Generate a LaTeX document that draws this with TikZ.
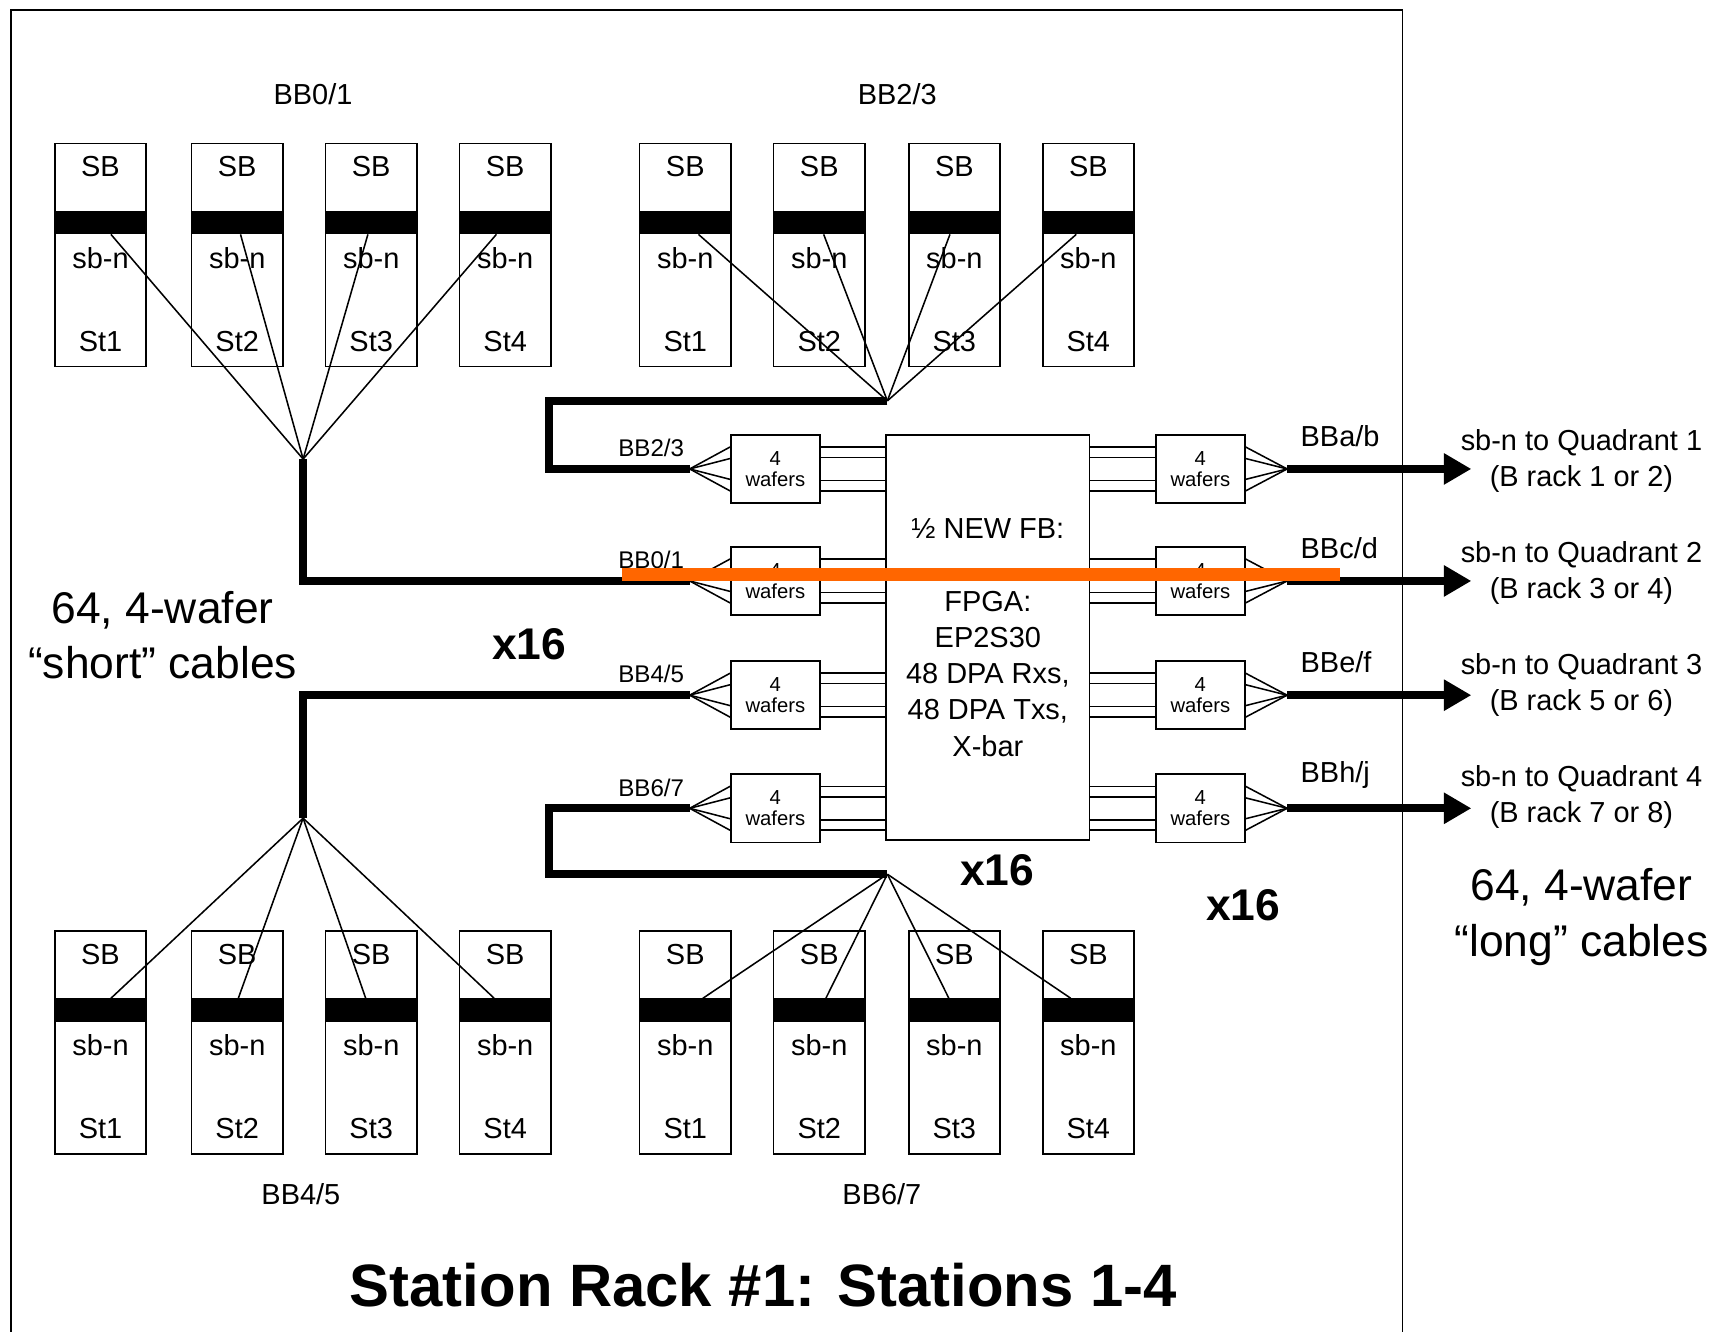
\documentclass[tikz,border=0pt]{standalone}
\usepackage{fontspec}
\setmainfont{Liberation Sans}
\usetikzlibrary{positioning,arrows.meta,calc}
\definecolor{rOrange}{RGB}{255,102,0}
\tikzset{
  sbox/.style={rectangle, draw, line width=0.8pt, minimum width=16.6mm,
               minimum height=40.6mm, inner sep=0pt},
  band/.style={rectangle, draw, fill=black, line width=0.8pt,
               minimum width=16.6mm, minimum height=4mm, inner sep=0pt},
  wbox/.style={rectangle, draw, fill=white, line width=0.8pt, minimum width=16.2mm,
               minimum height=12.4mm, inner sep=0pt, align=center,
               font=\fontsize{10.5}{10.8}\selectfont},
  fbbox/.style={rectangle, draw, line width=0.8pt, minimum width=37mm,
                minimum height=73.8mm, inner sep=0pt, align=center,
                font=\fontsize{15}{18.8}\selectfont},
  lbl/.style={font=\fontsize{15}{18.8}\selectfont, inner sep=0pt, align=center},
  slbl/.style={font=\fontsize{12.5}{15}\selectfont, inner sep=0pt},
  note/.style={font=\fontsize{23}{28.8}\selectfont, inner sep=0pt, align=center},
  mult/.style={font=\fontsize{23}{28}\selectfont\bfseries, inner sep=0pt},
  ttl/.style={font=\fontsize{31}{36}\selectfont\bfseries, inner sep=0pt},
  wire/.style={draw, line width=0.8pt},
  cable/.style={draw, line width=4.3pt},
  outarrow/.style={cable, -{Triangle[length=5mm, width=5.4mm]}, shorten >=-2mm},
  hilite/.style={draw=rOrange, line width=6.8pt},
  frame/.style={draw, line width=0.8pt},
}
% station board: SB / connector band / sb-n / station
\newcommand{\StBox}[4]{%
  \node[sbox, anchor=north] (#1) at (#2,#3) {};
  \node[band, anchor=north] (#1b) at ($(#1.north)+(0,62)$) {};
  \node[lbl] (#1s) at ($(#1.north)+(0,22)$) {SB};
  \node[lbl] (#1n) at ($(#1.north)+(0,105)$) {sb-n};
  \node[lbl] (#1t) at ($(#1.north)+(0,181)$) {#4};}
% one row of 4-wafer boxes on both sides of the FB
\newcommand{\WaferRow}[4]{%
  \node[wbox] (wl#1) at (706,#2) {4\\wafers};
  \node[wbox] (wr#1) at (1093,#2) {4\\wafers};
  \coordinate (fl#1) at (628,#2);
  \coordinate (fr#1) at (1172,#2);
  \node[slbl] (ll#1) at (593,#2-19) {#3};
  \node[lbl, anchor=west] (rl#1) at (1184,#2-30) {#4};
  \draw[wire] (fl#1) -- ([yshift=4mm]wl#1.west);
  \draw[wire] (fl#1) -- ([yshift=1.9mm]wl#1.west);
  \draw[wire] (fl#1) -- ([yshift=-1.9mm]wl#1.west);
  \draw[wire] (fl#1) -- ([yshift=-4mm]wl#1.west);
  \draw[wire] ([yshift=4mm]wl#1.east) -- ([yshift=4mm]wl#1.east -| fb.west);
  \draw[wire] ([yshift=2.1mm]wl#1.east) -- ([yshift=2.1mm]wl#1.east -| fb.west);
  \draw[wire] ([yshift=-2.1mm]wl#1.east) -- ([yshift=-2.1mm]wl#1.east -| fb.west);
  \draw[wire] ([yshift=-4mm]wl#1.east) -- ([yshift=-4mm]wl#1.east -| fb.west);
  \draw[wire] ([yshift=4mm]wr#1.west) -- ([yshift=4mm]wr#1.west -| fb.east);
  \draw[wire] ([yshift=2.1mm]wr#1.west) -- ([yshift=2.1mm]wr#1.west -| fb.east);
  \draw[wire] ([yshift=-2.1mm]wr#1.west) -- ([yshift=-2.1mm]wr#1.west -| fb.east);
  \draw[wire] ([yshift=-4mm]wr#1.west) -- ([yshift=-4mm]wr#1.west -| fb.east);
  \draw[wire] ([yshift=4mm]wr#1.east) -- (fr#1);
  \draw[wire] ([yshift=1.9mm]wr#1.east) -- (fr#1);
  \draw[wire] ([yshift=-1.9mm]wr#1.east) -- (fr#1);
  \draw[wire] ([yshift=-4mm]wr#1.east) -- (fr#1);}

\begin{document}
\begin{tikzpicture}[x=0.2mm, y=-0.2mm]
  \useasboundingbox (0,0) rectangle (1568,1212);
  \draw[frame] (10,1220) |- (1277,9) -- (1277,1220);

  %====================== STATION BOARDS ======================
  \node[lbl] (g01) at (285,86) {BB0/1};
  \StBox{tl1}{91.5}{130}{St1}
  \StBox{tl2}{216}{130}{St2}
  \StBox{tl3}{338}{130}{St3}
  \StBox{tl4}{460}{130}{St4}

  \node[lbl] (g23) at (817,86) {BB2/3};
  \StBox{tr1}{624}{130}{St1}
  \StBox{tr2}{746}{130}{St2}
  \StBox{tr3}{869}{130}{St3}
  \StBox{tr4}{991}{130}{St4}

  \StBox{bl1}{91.5}{847}{St1}
  \StBox{bl2}{216}{847}{St2}
  \StBox{bl3}{338}{847}{St3}
  \StBox{bl4}{460}{847}{St4}
  \node[lbl] (g45) at (274,1087) {BB4/5};

  \StBox{br1}{624}{847}{St1}
  \StBox{br2}{746}{847}{St2}
  \StBox{br3}{869}{847}{St3}
  \StBox{br4}{991}{847}{St4}
  \node[lbl] (g67) at (803,1087) {BB6/7};

  %====================== FB AND WAFER ROWS ======================
  \node[fbbox] (fb) at (899.5,580.5)
    {½ NEW FB:\\[18.8pt]FPGA:\\EP2S30\\48 DPA Rxs,\\48 DPA Txs,\\X-bar};

  \WaferRow{1}{427}{BB2/3}{BBa/b}
  \WaferRow{2}{529}{BB0/1}{BBc/d}
  \WaferRow{3}{633}{BB4/5}{BBe/f}
  \WaferRow{4}{736}{BB6/7}{BBh/j}

  %====================== SHORT CABLES ======================
  \coordinate (hubTL) at (276,418);
  \coordinate (hubTR) at (808,365);
  \coordinate (hubBL) at (276,745);
  \coordinate (hubBR) at (808,796);

  \draw[wire] (hubTL) -- ($(tl1b.south)+(9.5,0)$);
  \draw[wire] (hubTL) -- ($(tl2b.south)+(3,0)$);
  \draw[wire] (hubTL) -- ($(tl3b.south)+(-3,0)$);
  \draw[wire] (hubTL) -- ($(tl4b.south)+(-8,0)$);
  \draw[wire] (hubTR) -- ($(tr1b.south)+(12,0)$);
  \draw[wire] (hubTR) -- ($(tr2b.south)+(4,0)$);
  \draw[wire] (hubTR) -- ($(tr3b.south)+(-4,0)$);
  \draw[wire] (hubTR) -- ($(tr4b.south)+(-11,0)$);
  \draw[wire] (hubBL) -- ($(bl1b.north)+(9.5,0)$);
  \draw[wire] (hubBL) -- ($(bl2b.north)+(1,0)$);
  \draw[wire] (hubBL) -- ($(bl3b.north)+(-5,0)$);
  \draw[wire] (hubBL) -- ($(bl4b.north)+(-10,0)$);
  \draw[wire] (hubBR) -- ($(br1b.north)+(16,0)$);
  \draw[wire] (hubBR) -- ($(br2b.north)+(6,0)$);
  \draw[wire] (hubBR) -- ($(br3b.north)+(-5,0)$);
  \draw[wire] (hubBR) -- ($(br4b.north)+(-16,0)$);

  \draw[cable] (hubTL) |- (fl2);
  \draw[cable] (hubTR) -| ($(fl1)+(-128,0)$) -- (fl1);
  \draw[cable] (hubBL) |- (fl3);
  \draw[cable] (hubBR) -| ($(fl4)+(-128,0)$) -- (fl4);

  \node[note] (shortc) at (148,578.5) {64, 4-wafer\\“short” cables};
  \node[mult] (m1) at (482,587) {x16};
  \node[mult] (m2) at (908,792) {x16};
  \node[mult] (m3) at (1132,824) {x16};

  %====================== LONG CABLES ======================
  \node[lbl] (q1) at (1440,419.5) {sb-n to Quadrant 1\\(B rack 1 or 2)};
  \node[lbl] (q2) at (1440,521.5) {sb-n to Quadrant 2\\(B rack 3 or 4)};
  \node[lbl] (q3) at (1440,624) {sb-n to Quadrant 3\\(B rack 5 or 6)};
  \node[lbl] (q4) at (1440,726) {sb-n to Quadrant 4\\(B rack 7 or 8)};

  \draw[outarrow] (fr1) -- (fr1 -| q1.west);
  \draw[outarrow] (fr2) -- (fr2 -| q2.west);
  \draw[outarrow] (fr3) -- (fr3 -| q3.west);
  \draw[outarrow] (fr4) -- (fr4 -| q4.west);

  \node[note] (longc) at (1440,835) {64, 4-wafer\\“long” cables};

  \node[ttl] (title) at (695,1170) {Station Rack \#1: Stations 1-4};

  % orange marker across the BB0/1 row
  \draw[hilite] (566,523.5) -- (1220,523.5);
\end{tikzpicture}
\end{document}
